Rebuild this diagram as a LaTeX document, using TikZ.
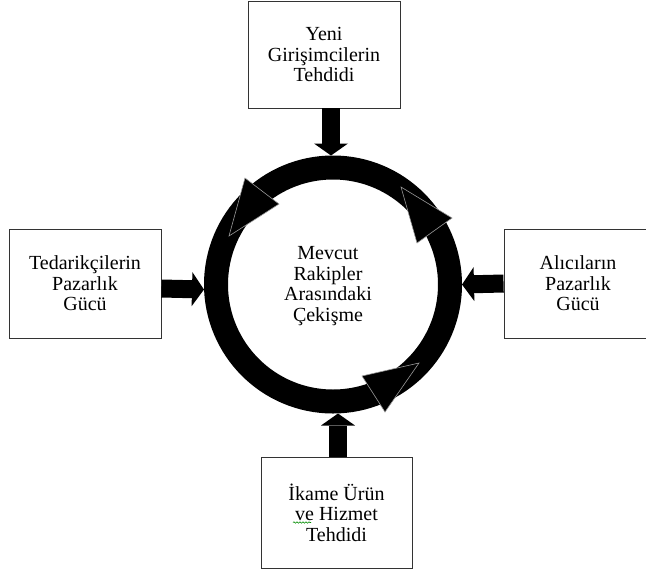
\documentclass[tikz,border=0pt]{standalone}
\usepackage{fontspec}
\setmainfont{Liberation Serif}
\usetikzlibrary{arrows.meta,decorations.pathmorphing}
\begin{document}
\begin{tikzpicture}[x=1pt, y=-1pt,
  main node/.style={rectangle, draw=black!80, line width=0.9pt, align=center, inner sep=0pt},
  force/.style={line width=18pt, -{Triangle[length=12pt, width=34pt, line width=0pt]}},
  turn/.style={fill=black, draw=black!40, line width=0.6pt}]
\tikzstyle{every node}=[font=\fontsize{20}{20.5}\selectfont]

\useasboundingbox (0,0) rectangle (646,574);
\fill[white] (0,0) rectangle (646,574);

  \node[main node, minimum width=152pt, minimum height=107pt] (1) at (324,54.5) {Yeni\\Girişimcilerin\\Tehdidi};
  \node[main node, minimum width=152pt, minimum height=109pt] (2) at (85,283.5) {Tedarikçilerin\\Pazarlık\\Gücü};
  \node[main node, minimum width=148pt, minimum height=109pt] (3) at (578,283.5) {Alıcıların\\Pazarlık\\Gücü};
  \node[main node, minimum width=151pt, minimum height=111pt] (4) at (336.5,512.5) {İkame Ürün\\ve Hizmet\\Tehdidi};

  % the ring and its text
  \node[circle, draw, line width=24pt, minimum size=234pt, inner sep=0pt] (ring) at (333,284.5) {};
  \node[align=center] (0) at (328,286) {Mevcut\\Rakipler\\Arasındaki\\Çekişme};

  \filldraw[turn] (245,178) -- (279,204) -- (229,236) -- cycle;
  \filldraw[turn] (401,187) -- (452,218) -- (417,243) -- cycle;
  \filldraw[turn] (362,376) -- (419,363) -- (385,412) -- cycle;

  \path[force]
    ([xshift=7pt]1.south) edge ([xshift=-2pt]ring.north)
    ([yshift=-5pt]2.east) edge ([yshift=-5pt]ring.west)
    (3.west) edge (ring.east)
    ([xshift=1.5pt]4.north) edge ([xshift=5pt]ring.south);

  % spell check line under "ve"
  \draw[green!55!black, line width=0.6pt, decorate, decoration={snake, amplitude=0.7pt, segment length=3pt}] (293,522.5) -- (311,522.5);

\end{tikzpicture}
\end{document}
